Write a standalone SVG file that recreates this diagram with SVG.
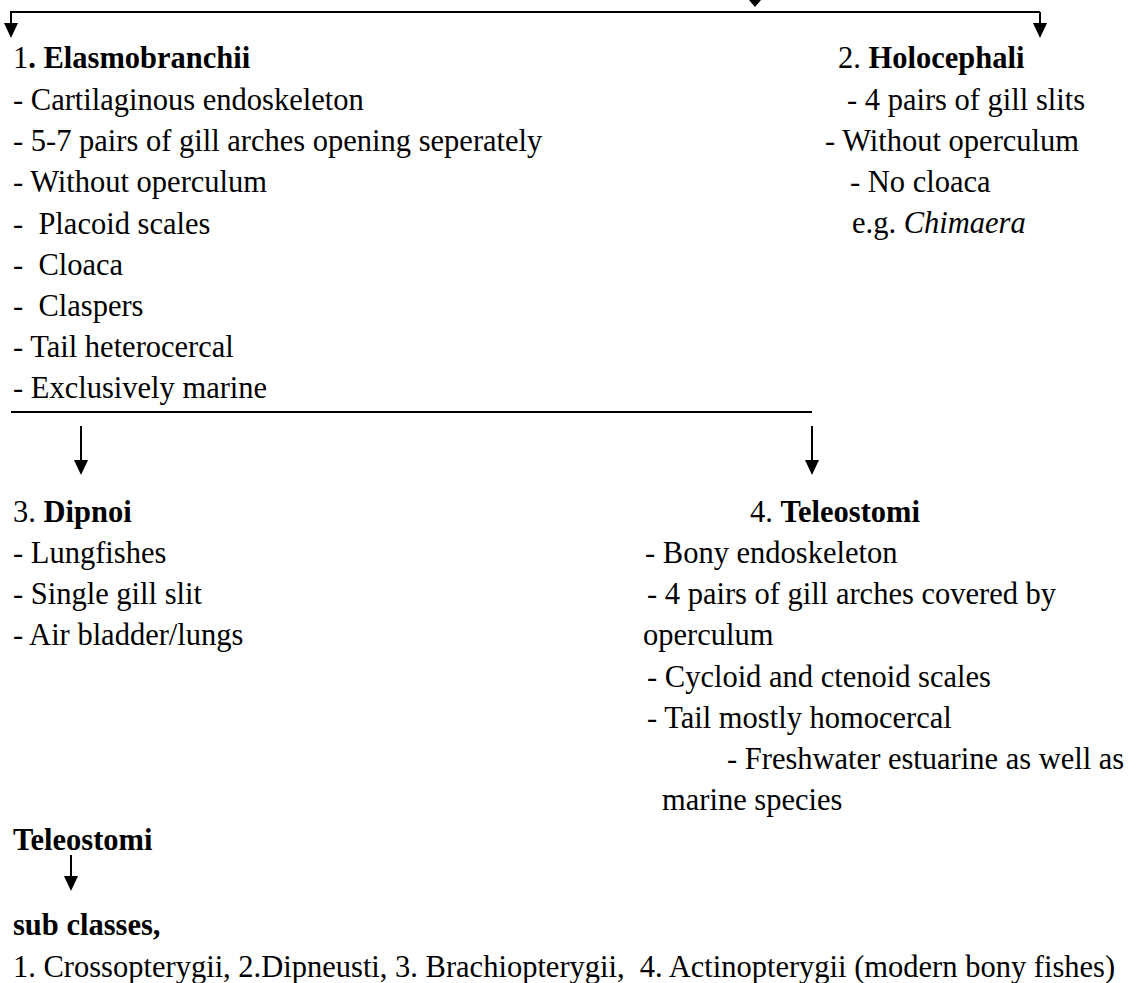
<svg xmlns="http://www.w3.org/2000/svg" width="1141" height="983" viewBox="0 0 1141 983">
<style>
text{font-family:"Liberation Serif","Times New Roman",serif;font-size:30.5px;fill:#000;white-space:pre}
.b{font-weight:bold}
.i{font-style:italic}
.ln{fill:none;stroke:#000;stroke-width:2}
</style>
<defs>
<marker id="ah" viewBox="0 0 15 14" refX="12" refY="7" markerWidth="15" markerHeight="14" markerUnits="userSpaceOnUse" orient="auto">
<path d="M0,0 L15,7 L0,14 z" fill="#000"/>
</marker>
</defs>
<rect width="1141" height="983" fill="#fff"/>
<g id="connectors">
<path class="ln" d="M1040,12 L11,12 L11,35" marker-end="url(#ah)"/>
<path class="ln" d="M1040,12 L1040,35" marker-end="url(#ah)"/>
<polygon points="749,0 761,0 755,7" fill="#000"/>
<path class="ln" d="M11,412 L812,412"/>
<path class="ln" d="M81,426 L81,472" marker-end="url(#ah)"/>
<path class="ln" d="M812,426 L812,472" marker-end="url(#ah)"/>
<path class="ln" d="M71,855 L71,888" marker-end="url(#ah)"/>
</g>
<g id="node-elasmobranchii">
<text x="13" y="68">1<tspan class="b">. Elasmobranchii</tspan></text>
<text x="13" y="110">- Cartilaginous endoskeleton</text>
<text x="13" y="151">- 5-7 pairs of gill arches opening seperately</text>
<text x="13" y="192">- Without operculum</text>
<text x="13" y="234">-  Placoid scales</text>
<text x="13" y="275">-  Cloaca</text>
<text x="13" y="316">-  Claspers</text>
<text x="13" y="357">- Tail heterocercal</text>
<text x="13" y="398">- Exclusively marine</text>
</g>
<g id="node-holocephali">
<text x="838" y="68">2. <tspan class="b">Holocephali</tspan></text>
<text x="847" y="110">- 4 pairs of gill slits</text>
<text x="825" y="151">- Without operculum</text>
<text x="850" y="192">- No cloaca</text>
<text x="852" y="233">e.g. <tspan class="i">Chimaera</tspan></text>
</g>
<g id="node-dipnoi">
<text x="13" y="522">3. <tspan class="b">Dipnoi</tspan></text>
<text x="13" y="563">- Lungfishes</text>
<text x="13" y="604">- Single gill slit</text>
<text x="13" y="645">- Air bladder/lungs</text>
</g>
<g id="node-teleostomi">
<text x="750" y="522">4. <tspan class="b">Teleostomi</tspan></text>
<text x="645" y="563">- Bony endoskeleton</text>
<text x="647" y="604">- 4 pairs of gill arches covered by</text>
<text x="643" y="645">operculum</text>
<text x="647" y="687">- Cycloid and ctenoid scales</text>
<text x="647" y="728">- Tail mostly homocercal</text>
<text x="727" y="769">- Freshwater estuarine as well as</text>
<text x="662" y="810">marine species</text>
</g>
<g id="node-teleostomi-head">
<text x="13" y="850" class="b">Teleostomi</text>
</g>
<g id="node-subclasses">
<text x="13" y="935" class="b">sub classes,</text>
<text x="13" y="977">1. Crossopterygii, 2.Dipneusti, 3. Brachiopterygii,  4. Actinopterygii (modern bony fishes)</text>
</g>
</svg>
